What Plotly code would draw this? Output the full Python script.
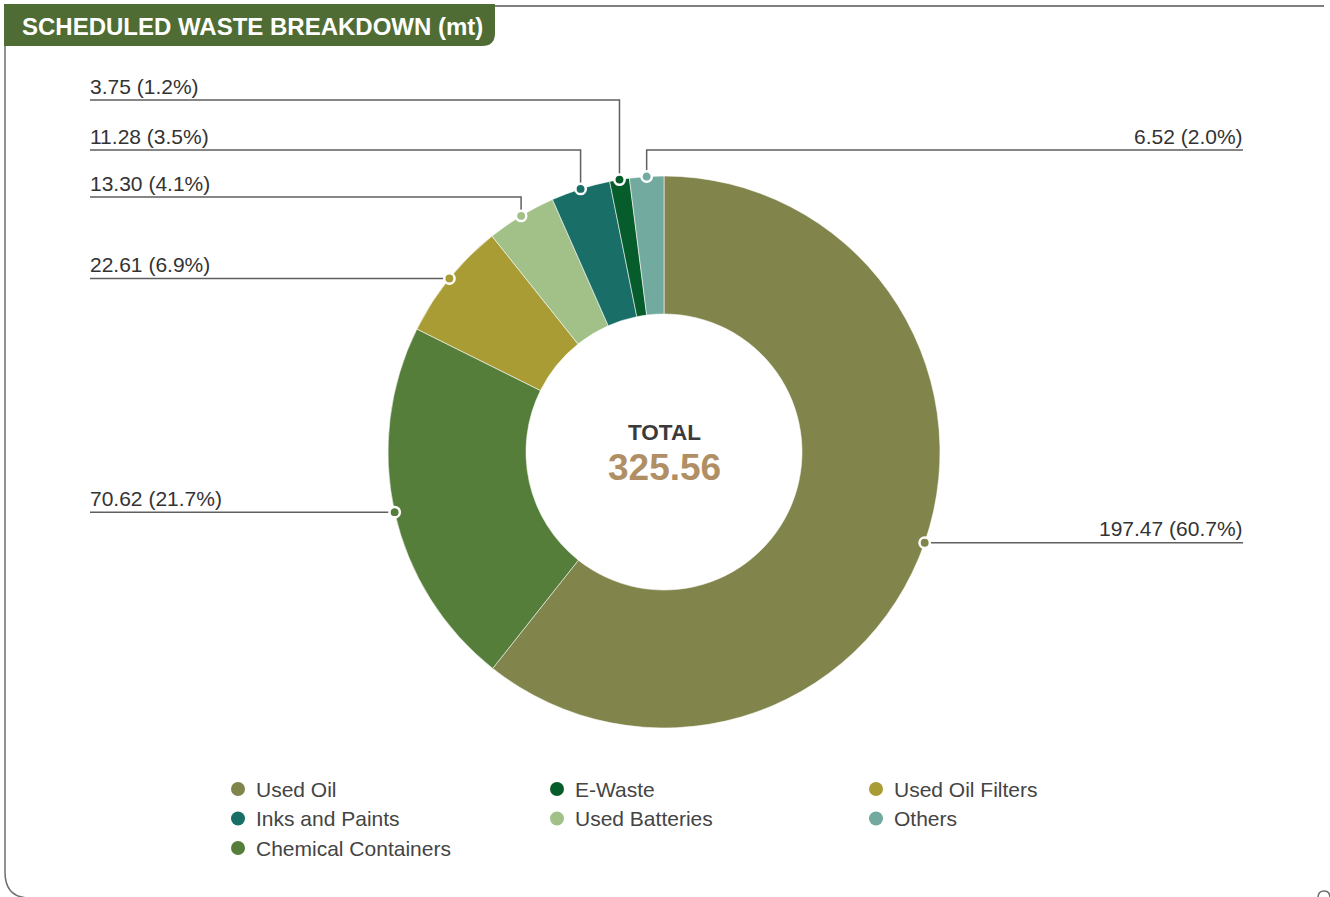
import math
import plotly.graph_objects as go

# ---- data -------------------------------------------------------------
categories = ["Used Oil", "Chemical Containers", "Used Oil Filters", "Used Batteries",
              "Inks and Paints", "E-Waste", "Others"]
values_mt = [197.47, 70.62, 22.61, 13.30, 11.28, 3.75, 6.52]
total_mt = 325.56
slice_colors = ["#81844B", "#557E3A", "#A99C34", "#A2C188", "#196F67", "#075C2B", "#72AA9F"]
legend_order = ["Used Oil", "E-Waste", "Used Oil Filters", "Inks and Paints",
                "Used Batteries", "Others", "Chemical Containers"]

# ---- layout constants (pixels) ------------------------------------------
W, H = 1330, 897
CX, CY, R = 664, 452, 276
HOLE = 0.5
LEFT_X, RIGHT_X = 90, 1243
TEXT_PAD = 2  # annotation boxes carry a small inner padding
FONT = "Helvetica Neue, Arial, Liberation Sans, sans-serif"
LINE_COL = "#5f5f5f"
FRAME_COL = "#6f6f6f"

# legend grid: three columns, row-major
LEG_X0, LEG_DX = 238, 319
LEG_Y0, LEG_DY = 789, 29.5

# leader-line row (pixel y, None = straight out from the dot) and side
label_rows = {
    "Used Oil": (None, "right"),
    "Chemical Containers": (None, "left"),
    "Used Oil Filters": (None, "left"),
    "Used Batteries": (197, "left"),
    "Inks and Paints": (150, "left"),
    "E-Waste": (100, "left"),
    "Others": (150, "right"),
}

color_of = dict(zip(categories, slice_colors))
sum_mt = sum(values_mt)

fig = go.Figure()

# donut
fig.add_trace(go.Pie(
    labels=categories, values=values_mt, sort=False, direction="clockwise", rotation=0,
    hole=HOLE, textinfo="none", hoverinfo="label+value+percent", showlegend=False,
    marker=dict(colors=slice_colors, line=dict(color="rgba(255,255,255,0.8)", width=0.7)),
    domain=dict(x=[(CX - R) / W, (CX + R) / W], y=[(H - CY - R) / H, (H - CY + R) / H]),
))

shapes = []
annotations = []

# leader lines, dots and value labels
cum = 0.0
dots = []
for name, v in zip(categories, values_mt):
    theta = 2 * math.pi * (cum + v / 2) / sum_mt
    cum += v
    px = CX + R * math.sin(theta)
    py = CY - R * math.cos(theta)
    row_y, side = label_rows[name]
    ly = py if row_y is None else row_y
    end_x = LEFT_X if side == "left" else RIGHT_X
    if row_y is None:
        path = f"M {end_x},{ly} L {px},{py}"
    else:
        path = f"M {end_x},{ly} L {px},{ly} L {px},{py}"
    shapes.append(dict(type="path", path=path, xref="x", yref="y", layer="above",
                       line=dict(color=LINE_COL, width=1.5)))
    dots.append(dict(type="circle", xref="x", yref="y", layer="above",
                     x0=px - 5.2, x1=px + 5.2, y0=py - 5.2, y1=py + 5.2,
                     fillcolor=color_of[name], line=dict(color="white", width=2.5)))
    annotations.append(dict(
        x=end_x - TEXT_PAD if side == "left" else end_x + TEXT_PAD,
        y=ly - 14, xref="x", yref="y", showarrow=False,
        xanchor="left" if side == "left" else "right", yanchor="middle",
        text=f"{v:.2f} ({v / total_mt * 100:.1f}%)",
        font=dict(family=FONT, size=21, color="#333333"),
    ))
shapes.extend(dots)

# legend
for i, name in enumerate(legend_order):
    lx = LEG_X0 + (i % 3) * LEG_DX
    ly = LEG_Y0 + (i // 3) * LEG_DY
    shapes.append(dict(type="circle", xref="x", yref="y", layer="above",
                       x0=lx - 7, x1=lx + 7, y0=ly - 7, y1=ly + 7,
                       fillcolor=color_of[name], line=dict(width=0)))
    annotations.append(dict(x=lx + 18 - TEXT_PAD, y=ly, xref="x", yref="y", showarrow=False,
                            xanchor="left", yanchor="middle", text=name,
                            font=dict(family=FONT, size=21, color="#444444")))

# centre total
annotations.append(dict(x=CX, y=432, xref="x", yref="y", showarrow=False, text="<b>TOTAL</b>",
                        font=dict(family=FONT, size=22.5, color="#3b3b3b")))
annotations.append(dict(x=CX, y=467, xref="x", yref="y", showarrow=False, text=f"<b>{total_mt:.2f}</b>",
                        font=dict(family=FONT, size=37, color="#B08F65")))

# header tab and frame
shapes.append(dict(type="path", xref="x", yref="y", layer="below",
                   path="M 4,4 L 495,4 L 495,33 Q 495,46 482,46 L 4,46 Z",
                   fillcolor="#4F6C34", line=dict(width=0)))
shapes.append(dict(type="path", xref="x", yref="y", layer="below",
                   path="M 495,6 L 1324,6", line=dict(color="#808080", width=2)))
shapes.append(dict(type="path", xref="x", yref="y", layer="below",
                   path="M 5,46 L 5,872 Q 5,898 30,898", line=dict(color=FRAME_COL, width=1.5)))
shapes.append(dict(type="path", xref="x", yref="y", layer="below",
                   path="M 1318,898 Q 1318,891 1324,891 Q 1330,891 1330,898",
                   line=dict(color=FRAME_COL, width=1.5)))
annotations.append(dict(x=22 - TEXT_PAD, y=26, xref="x", yref="y", showarrow=False,
                        xanchor="left", yanchor="middle",
                        text="<b>SCHEDULED WASTE BREAKDOWN (mt)</b>",
                        font=dict(family=FONT, size=24, color="white")))

fig.update_layout(
    width=W, height=H, margin=dict(l=0, r=0, t=0, b=0),
    paper_bgcolor="white", plot_bgcolor="white",
    xaxis=dict(range=[0, W], visible=False, fixedrange=True),
    yaxis=dict(range=[H, 0], visible=False, fixedrange=True),
    shapes=shapes, annotations=annotations,
    showlegend=False,
)

fig.write_html("out.html")
